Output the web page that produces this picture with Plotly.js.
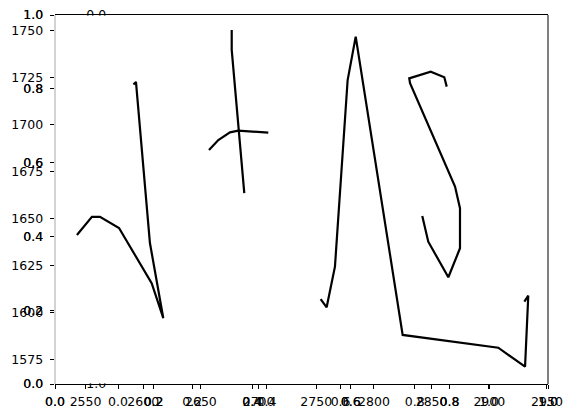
<!DOCTYPE html>
<html>
<head>
<meta charset="utf-8">
<script src="https://cdn.plot.ly/plotly-3.0.1.min.js"></script>
<style>html,body{margin:0;padding:0;background:#fff;}#chart{width:573px;height:418px;}</style>
</head>
<body>
<div id="chart"></div>
<script>
// Stroke data (main axes units)
const strokeA_x = [2542.5, 2549.5, 2555.5, 2562.5, 2579.0, 2607.3, 2617.4, 2605.8, 2593.7, 2591.5];
const strokeA_y = [1641.5, 1646.8, 1651.1, 1651.1, 1645.2, 1615.8, 1597.2, 1637.2, 1722.9, 1721.5];
const strokeB1_x = [2676.7, 2676.7, 2687.6];
const strokeB1_y = [1750.5, 1739.9, 1663.7];
const strokeB2_x = [2657.0, 2665.1, 2675.2, 2682.4, 2708.4];
const strokeB2_y = [1686.7, 1692.0, 1696.1, 1697.0, 1695.9];
const strokeC_x = [2753.8, 2759.0, 2766.2, 2777.2, 2784.2, 2824.9, 2907.8, 2931.0, 2933.8, 2930.4];
const strokeC_y = [1607.4, 1603.0, 1624.6, 1723.9, 1747.0, 1588.3, 1581.5, 1571.4, 1609.2, 1606.0];
const strokeD_x = [2863.1, 2861.0, 2849.2, 2830.6, 2831.3, 2870.3, 2874.6, 2874.6, 2864.5, 2847.1, 2841.9];
const strokeD_y = [1720.4, 1725.4, 1728.3, 1724.8, 1722.2, 1667.2, 1655.7, 1634.4, 1619.0, 1637.9, 1651.6];

// Tick values / labels
const mainXTicks = [2550, 2600, 2650, 2700, 2750, 2800, 2850, 2900, 2950];
const mainYTicks = [1575, 1600, 1625, 1650, 1675, 1700, 1725, 1750];
const unitTicks = [0, 0.2, 0.4, 0.6, 0.8, 1.0];
const unitLabels = ['0.0', '0.2', '0.4', '0.6', '0.8', '1.0'];
const edgeTicks = [0, 1];
const edgeLabels = ['0.0', '1.0'];

const FONT = {family: 'DejaVu Sans', size: 12.5, color: '#000'};
const strokes = [[strokeA_x, strokeA_y], [strokeB1_x, strokeB1_y], [strokeB2_x, strokeB2_y], [strokeC_x, strokeC_y], [strokeD_x, strokeD_y]];
const traces = [];
// empty traces to create the extra axes (drawn first)
traces.push({x: [], y: [], type: 'scatter', mode: 'lines', xaxis: 'x4', yaxis: 'y4'});
traces.push({x: [], y: [], type: 'scatter', mode: 'lines', xaxis: 'x2', yaxis: 'y2'});
traces.push({x: [], y: [], type: 'scatter', mode: 'lines', xaxis: 'x3', yaxis: 'y3'});
strokes.forEach(s => traces.push({
  x: s[0], y: s[1], type: 'scatter', mode: 'lines', xaxis: 'x', yaxis: 'y',
  line: {color: '#000', width: 2.2}, hoverinfo: 'skip'
}));

const tickX = {ticks: 'outside', ticklen: 4.4, tickwidth: 1, tickcolor: '#000',
  showgrid: false, zeroline: false, tickfont: FONT, ticklabelstandoff: 2};
const tickY = {ticks: 'outside', ticklen: 4.4, tickwidth: 1, tickcolor: '#000',
  showgrid: false, zeroline: false, tickfont: FONT, ticklabelstandoff: 4};

const unitX = Object.assign({}, tickX, {overlaying: 'x', anchor: 'y', side: 'bottom',
  range: [0, 1], tickmode: 'array', tickvals: unitTicks, ticktext: unitLabels, showline: false});
const unitY = Object.assign({}, tickY, {overlaying: 'y', anchor: 'x', side: 'left',
  range: [0, 1], tickmode: 'array', tickvals: unitTicks, ticktext: unitLabels, showline: false});

const layout = {
  width: 573, height: 418,
  margin: {l: 55, r: 25, t: 15, b: 34, pad: 0},
  paper_bgcolor: '#fff', plot_bgcolor: 'rgba(0,0,0,0)',
  showlegend: false,
  xaxis: Object.assign({}, tickX, {range: [2523.5, 2950.9], tickmode: 'array',
    tickvals: mainXTicks, ticktext: mainXTicks.map(String), showline: true, mirror: true,
    linecolor: '#000', linewidth: 1}),
  yaxis: Object.assign({}, tickY, {range: [1562.2, 1758.5], tickmode: 'array',
    tickvals: mainYTicks, ticktext: mainYTicks.map(String), showline: false}),
  xaxis2: unitX,
  xaxis3: Object.assign({}, unitX),
  yaxis2: unitY,
  yaxis3: Object.assign({}, unitY),
  xaxis4: Object.assign({}, tickX, {domain: [0.1278, 0.8803], anchor: 'y4', side: 'bottom',
    range: [0, 1], tickmode: 'array', tickvals: unitTicks, ticktext: unitLabels, showline: false}),
  yaxis4: Object.assign({}, tickY, {domain: [0, 1], anchor: 'x4', side: 'left',
    range: [1, 0], tickmode: 'array', tickvals: edgeTicks, ticktext: edgeLabels,
    tickcolor: 'rgba(0,0,0,0)', showline: false}),
  shapes: [
    {type: 'rect', xref: 'paper', yref: 'paper', x0: 0.055, x1: 0.1156, y0: 0.975, y1: 0.9983,
      fillcolor: '#fff', line: {width: 0}, layer: 'above'},
    {type: 'rect', xref: 'paper', yref: 'paper', x0: 0.055, x1: 0.1156, y0: 0.0018, y1: 0.024,
      fillcolor: '#fff', line: {width: 0}, layer: 'above'},
    {type: 'line', xref: 'paper', yref: 'paper', x0: 0, x1: 0, y0: 0, y1: 1,
      line: {color: '#a8a8a8', width: 1}, layer: 'above'},
    {type: 'line', xref: 'paper', yref: 'paper', x0: 1, x1: 1, y0: 0, y1: 1,
      line: {color: '#000', width: 1}, layer: 'above'}
  ]
};

Plotly.newPlot('chart', traces, layout, {staticPlot: true, displayModeBar: false});
</script>
</body>
</html>
